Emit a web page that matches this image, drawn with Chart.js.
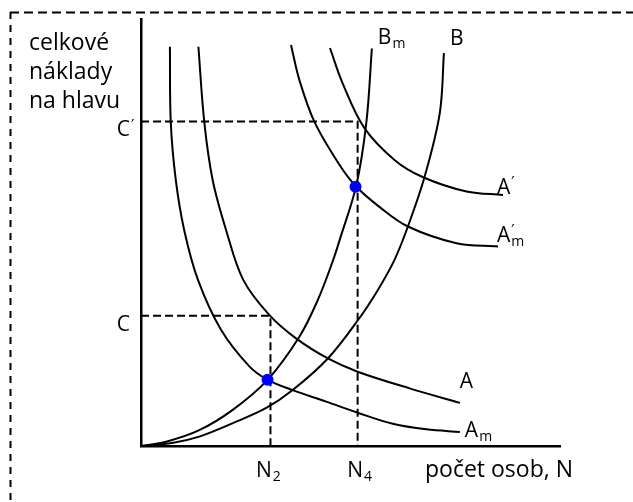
<!DOCTYPE html>
<html>
<head>
<meta charset="utf-8">
<script src="https://cdn.jsdelivr.net/npm/chart.js@4/dist/chart.umd.min.js"></script>
<style>
html,body{margin:0;padding:0;background:#fff;}
#wrap{width:633px;height:502px;position:relative;}
</style>
</head>
<body>
<div id="wrap"><canvas id="c" width="633" height="502"></canvas></div>
<script>
// ---- data (abstract units: N on x 0..10, cost per head on y 0..10) ----
const N2 = 3.09, N4 = 5.17;      // x tick positions
const C1 = 3.05, C2 = 7.60;      // y tick positions (C, C′)
const xTickLabels = ['N', 'N'];
const xTickSubs = ['2', '4'];
const yTickLabels = ['C', 'C'];
const yTickPrimes = [false, true];

const curveA  = [[1.37,9.35],[1.51,7.59],[1.71,6.23],[2.03,5.06],[2.44,3.89],[3.06,3.07],[3.70,2.52],[4.46,2.05],[5.17,1.74],[6.41,1.35],[7.61,1.01]];
const curveAm = [[0.69,9.35],[0.71,7.59],[0.83,6.23],[1.03,5.06],[1.36,3.89],[1.91,2.72],[2.58,1.87],[3.02,1.55],[3.62,1.31],[4.42,1.04],[5.17,0.78],[6.01,0.52],[6.81,0.39],[7.61,0.33]];
const curveA2 = [[4.51,9.32],[4.81,8.50],[5.33,7.45],[6.05,6.70],[6.72,6.30],[7.77,5.96],[8.64,5.88]];
const curveA2m= [[3.58,9.39],[3.78,8.57],[4.14,7.59],[4.74,6.58],[5.14,6.07],[5.69,5.60],[6.37,5.14],[7.53,4.75],[8.52,4.67]];
const curveB  = [[0,0],[0.74,0.07],[1.39,0.22],[2.18,0.53],[2.99,0.89],[3.62,1.31],[4.46,2.05],[5.18,2.95],[5.65,3.65],[6.05,4.36],[6.37,5.14],[6.77,6.31],[7.13,7.79],[7.23,9.20]];
const curveBm = [[0,0],[0.60,0.10],[1.39,0.37],[2.18,0.84],[3.02,1.55],[3.78,2.56],[4.22,3.42],[4.57,4.31],[4.74,4.82],[5.14,6.11],[5.38,7.59],[5.51,9.31]];
const equilibria = [[3.02,1.55],[5.12,6.07]];

const yTitleLines = ['celkové', 'náklady', 'na hlavu'];
const xTitle = 'počet osob, N';

const toXY = arr => arr.map(p => ({x: p[0], y: p[1]}));
const FONT = '"Open Sans", "Liberation Sans", sans-serif';

function curve(data, label){
  return {label, data: toXY(data), showLine: true, borderColor: '#000', borderWidth: 2,
          pointRadius: 0, tension: 0.35, fill: false, order: 2};
}
function guide(pts){
  return {data: toXY(pts), showLine: true, borderColor: '#000', borderWidth: 2,
          borderDash: [8,4], pointRadius: 0, tension: 0, fill: false, order: 3};
}

// label spec: text, optional sub, optional prime; anchored at curve end + offset
const curveLabels = [
  {curve: curveBm, main: 'B', sub: 'm', prime: false, dx: 6,  dy: -4},
  {curve: curveB,  main: 'B', sub: '',  prime: false, dx: 6,  dy: -8},
  {curve: curveA2, main: 'A', sub: '',  prime: true,  dx: -6, dy: -1},
  {curve: curveA2m,main: 'A', sub: 'm', prime: true,  dx: -1, dy: -5},
  {curve: curveA,  main: 'A', sub: '',  prime: false, dx: 0,  dy: -15},
  {curve: curveAm, main: 'A', sub: 'm', prime: false, dx: 5,  dy: 5}
];

function drawRich(ctx, x, y, main, sub, prime, size, align){
  ctx.font = size + 'px ' + FONT;
  const wMain = ctx.measureText(main).width;
  const subSize = Math.round(size*0.68);
  ctx.font = subSize + 'px ' + FONT;
  const wSub = sub ? ctx.measureText(sub).width : 0;
  const total = wMain + (sub ? wSub + 1 : (prime ? 4 : 0));
  let x0 = x;
  if (align === 'center') x0 = x - total/2;
  else if (align === 'right') x0 = x - wMain;
  ctx.fillStyle = '#000';
  ctx.textAlign = 'left';
  ctx.textBaseline = 'alphabetic';
  ctx.font = size + 'px ' + FONT;
  ctx.fillText(main, x0, y);
  if (sub){
    ctx.font = subSize + 'px ' + FONT;
    ctx.fillText(sub, x0 + wMain + 1, y + 4);
  }
  if (prime){
    ctx.font = Math.round(size*0.7) + 'px "DejaVu Sans", sans-serif';
    ctx.fillText('′', x0 + wMain + 1, y - size*0.28);
  }
}

const decor = {
  id: 'decor',
  beforeDraw(chart){
    const ctx = chart.ctx;
    ctx.save();
    ctx.fillStyle = '#fff';
    ctx.fillRect(0,0,chart.width,chart.height);
    ctx.strokeStyle = '#000';
    ctx.lineWidth = 2;
    ctx.setLineDash([9,5]);
    ctx.beginPath(); ctx.moveTo(10, 12.5); ctx.lineTo(chart.width, 12.5); ctx.stroke();
    ctx.setLineDash([7,6]);
    ctx.beginPath(); ctx.moveTo(10.5, 12); ctx.lineTo(10.5, chart.height); ctx.stroke();
    ctx.restore();
  },
  afterDraw(chart){
    const ctx = chart.ctx, xs = chart.scales.x, ys = chart.scales.y;
    ctx.save();
    ctx.fillStyle = '#000';
    ctx.font = '23px ' + FONT;
    ctx.textAlign = 'left'; ctx.textBaseline = 'alphabetic';
    yTitleLines.forEach((t,i) => ctx.fillText(t, 29, 50 + i*29));
    ctx.fillText(xTitle, 425, 477);
    [N2, N4].forEach((v,i) => {
      drawRich(ctx, xs.getPixelForValue(v) + (i===0 ? -2 : 2), 477, xTickLabels[i], xTickSubs[i], false, 21, 'center');
    });
    [C1, C2].forEach((v,i) => {
      drawRich(ctx, 130, ys.getPixelForValue(v) + 15, yTickLabels[i], '', yTickPrimes[i], 21, 'right');
    });
    curveLabels.forEach(l => {
      const p = l.curve[l.curve.length-1];
      drawRich(ctx, xs.getPixelForValue(p[0]) + l.dx, ys.getPixelForValue(p[1]) + l.dy, l.main, l.sub, l.prime, 21, 'left');
    });
    ctx.restore();
  }
};

new Chart(document.getElementById('c'), {
  type: 'scatter',
  data: {
    datasets: [
      {data: toXY(equilibria), showLine: false, pointRadius: 6, pointBackgroundColor: '#0000ff',
       pointBorderColor: '#0000ff', pointBorderWidth: 0, order: 0},
      guide([[0,C1],[N2,C1],[N2,0]]),
      guide([[0,C2],[N4,C2],[N4,0]]),
      curve(curveA,'A'), curve(curveAm,'Am'), curve(curveA2,"A'"), curve(curveA2m,"A'm"),
      curve(curveB,'B'), curve(curveBm,'Bm')
    ]
  },
  options: {
    responsive: false, animation: false, devicePixelRatio: 1,
    layout: {padding: {left: 141, right: 73, top: 19, bottom: 56}},
    scales: {
      x: {type: 'linear', min: 0, max: 10, grid: {display: false, drawTicks: false},
          ticks: {display: false}, border: {display: true, color: '#000', width: 2.5}},
      y: {type: 'linear', min: 0, max: 10, grid: {display: false, drawTicks: false},
          ticks: {display: false}, border: {display: true, color: '#000', width: 2.5}}
    },
    plugins: {legend: {display: false}, tooltip: {enabled: false}}
  },
  plugins: [decor]
});
</script>
</body>
</html>
